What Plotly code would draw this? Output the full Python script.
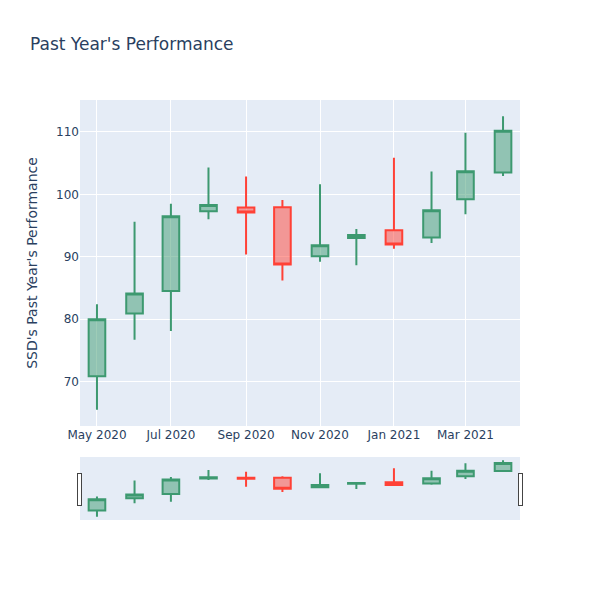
import plotly.graph_objects as go

dates = ["2020-05-01", "2020-06-01", "2020-07-01", "2020-08-01", "2020-09-01", "2020-10-01",
         "2020-11-01", "2020-12-01", "2021-01-01", "2021-02-01", "2021-03-01", "2021-04-01"]
open_ = [70.85, 80.9, 84.5, 97.3, 97.9, 97.95, 90.1, 93.0, 94.25, 93.1, 99.2, 103.5]
high = [82.4, 95.6, 98.5, 104.3, 102.85, 99.1, 101.6, 94.45, 105.85, 103.65, 109.85, 112.5]
low = [65.5, 76.7, 78.1, 96.0, 90.35, 86.2, 89.2, 88.65, 91.3, 92.2, 96.8, 102.95]
close = [80.0, 84.1, 96.5, 98.3, 97.1, 88.75, 91.85, 93.5, 91.95, 97.45, 103.7, 110.2]

fig = go.Figure(go.Candlestick(x=dates, open=open_, high=high, low=low, close=close))
fig.update_layout(
    title="Past Year's Performance",
    yaxis_title="SSD's Past Year's Performance",
    width=600, height=600,
    font=dict(family="DejaVu Sans"),
)
fig.write_html("out.html", config={"displayModeBar": False},
               post_script="document.body.style.margin='0';")
